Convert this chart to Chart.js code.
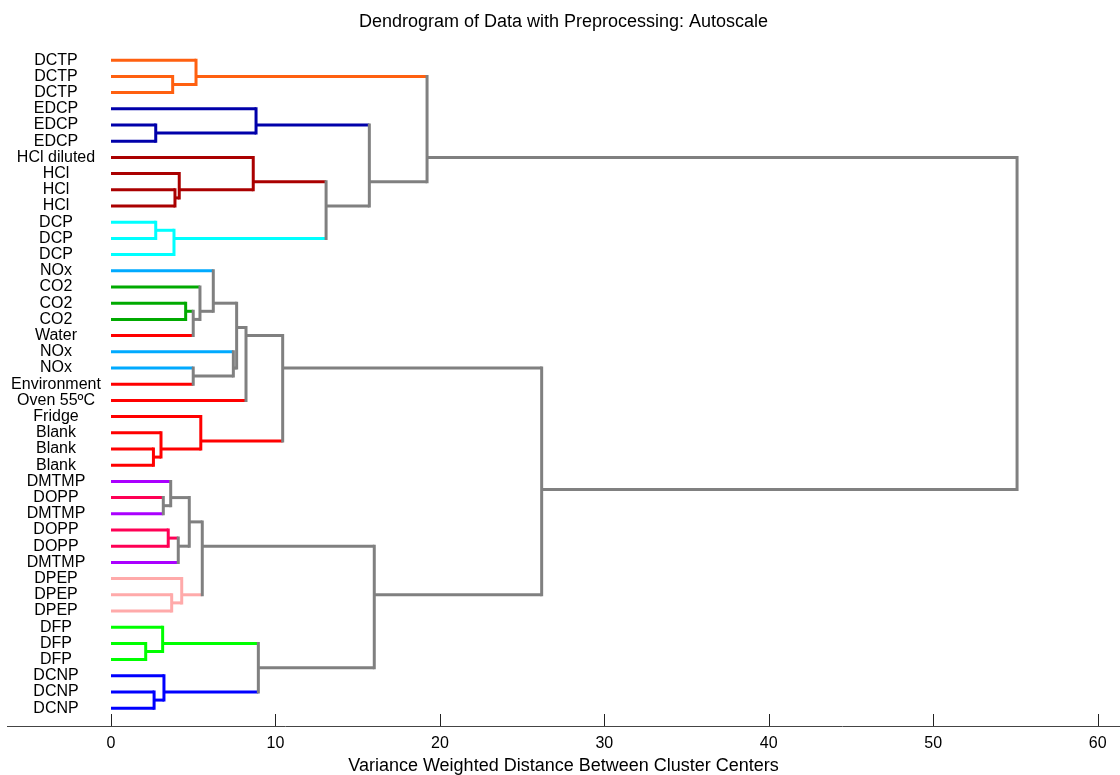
<!DOCTYPE html>
<html>
<head>
<meta charset="utf-8">
<script src="https://cdn.jsdelivr.net/npm/chart.js@4.4.0/dist/chart.umd.min.js"></script>
<style>
  html, body { margin: 0; padding: 0; background: #fff; }
  #wrap { width: 1120px; height: 775px; }
</style>
</head>
<body>
<div id="wrap"><canvas id="dendro" width="1120" height="775"></canvas></div>
<script>
// leaves, top to bottom
const leafLabels = [
  "DCTP", "DCTP", "DCTP", "EDCP", "EDCP", "EDCP",
  "HCl diluted", "HCl", "HCl", "HCl", "DCP", "DCP", "DCP",
  "NOx", "CO2", "CO2", "CO2", "Water", "NOx", "NOx", "Environment", "Oven 55ºC",
  "Fridge", "Blank", "Blank", "Blank",
  "DMTMP", "DOPP", "DMTMP", "DOPP", "DOPP", "DMTMP", "DPEP", "DPEP", "DPEP",
  "DFP", "DFP", "DFP", "DCNP", "DCNP", "DCNP"
];

// linkage rows (matlab style): 1..41 = leaves, 42.. = cluster made by row (n-41)
const linkLeft = [
  2, 1, 5, 4, 9, 8, 7, 11, 49, 48, 45, 43,
  16, 54, 15, 14, 20, 19, 57, 60, 25, 24, 23, 61,
  28, 27, 30, 68, 67, 34, 33, 70, 37, 36, 40, 39, 75, 73, 65, 53
];
const linkRight = [
  3, 42, 6, 44, 10, 46, 47, 12, 13, 50, 51, 52,
  17, 18, 55, 56, 21, 58, 59, 22, 26, 62, 63, 64,
  29, 66, 31, 32, 69, 35, 71, 72, 38, 74, 41, 76, 77, 78, 79, 80
];
const linkHeight = [
  3.75, 5.17, 2.72, 8.82, 3.89, 4.15, 8.65, 2.72, 3.83, 13.08, 15.71, 19.22,
  4.54, 5.0, 5.41, 6.22, 5.0, 7.44, 7.64, 8.21, 2.58, 3.04, 5.46, 10.44,
  3.18, 3.63, 3.48, 4.09, 4.76, 3.69, 4.30, 5.55, 2.11, 3.14, 2.62, 3.22,
  8.96, 16.01, 26.19, 55.1
];
const xTicks = [0, 10, 20, 30, 40, 50, 60];

const labelColors = {
  "DCTP": "#ff6010", "EDCP": "#0000aa", "HCl diluted": "#aa0000", "HCl": "#aa0000",
  "DCP": "#00ffff", "NOx": "#00aaff", "CO2": "#00aa00", "Water": "#ff0000",
  "Environment": "#ff0000", "Oven 55ºC": "#ff0000", "Fridge": "#ff0000", "Blank": "#ff0000",
  "DMTMP": "#aa00ff", "DOPP": "#ff0055", "DPEP": "#ffaaaa", "DFP": "#00ff00", "DCNP": "#0000ff"
};
const GRAY = "#808080";
const FONT = "'Liberation Sans', Arial, Helvetica, sans-serif";

// node info: position = mean of leaf positions, colour only if all leaves share it
const nLeaves = leafLabels.length;
const nodeSum = [], nodeCount = [], nodeH = [], nodeColor = [];
leafLabels.forEach((lab, i) => {
  nodeSum[i + 1] = i + 1;
  nodeCount[i + 1] = 1;
  nodeH[i + 1] = 0;
  nodeColor[i + 1] = labelColors[lab];
});

const datasets = [];
function seg(x1, y1, x2, y2, color, cap) {
  return {
    data: [{ x: x1, y: y1 }, { x: x2, y: y2 }],
    borderColor: color,
    borderWidth: 3,
    borderCapStyle: cap,
    showLine: true,
    pointRadius: 0,
    pointHoverRadius: 0
  };
}

const verticals = [];
linkHeight.forEach((h, k) => {
  const a = linkLeft[k], b = linkRight[k], id = nLeaves + k + 1;
  const ya = nodeSum[a] / nodeCount[a];
  const yb = nodeSum[b] / nodeCount[b];
  nodeSum[id] = nodeSum[a] + nodeSum[b];
  nodeCount[id] = nodeCount[a] + nodeCount[b];
  nodeH[id] = h;
  nodeColor[id] = (nodeColor[a] && nodeColor[a] === nodeColor[b]) ? nodeColor[a] : null;
  datasets.push(seg(nodeH[a], ya, h, ya, nodeColor[a] || GRAY, "butt"));
  datasets.push(seg(nodeH[b], yb, h, yb, nodeColor[b] || GRAY, "butt"));
  verticals.push(seg(h, ya, h, yb, nodeColor[id] || GRAY, "square"));
});
// verticals drawn on top of the horizontal ends
const allSets = verticals.concat(datasets);

const extras = {
  id: "extras",
  afterDraw(chart) {
    const { ctx, chartArea } = chart;
    const xs = chart.scales.x, ys = chart.scales.y;
    ctx.save();
    ctx.strokeStyle = "#222";
    ctx.lineWidth = 1;
    xTicks.forEach(v => {
      const px = Math.round(xs.getPixelForValue(v)) + 0.5;
      ctx.beginPath();
      ctx.moveTo(px, chartArea.bottom);
      ctx.lineTo(px, chartArea.bottom - 12);
      ctx.stroke();
    });
    ctx.fillStyle = "#000";
    ctx.font = "16px " + FONT;
    ctx.textAlign = "center";
    ctx.textBaseline = "middle";
    const edge = xs.getPixelForValue(0);
    leafLabels.forEach((lab, i) => {
      const w = ctx.measureText(lab).width;
      const cx = Math.min(56, edge - w / 2);
      ctx.fillText(lab, cx, ys.getPixelForValue(i + 1));
    });
    ctx.restore();
  }
};

new Chart(document.getElementById("dendro"), {
  type: "scatter",
  data: { datasets: allSets },
  options: {
    responsive: false,
    animation: false,
    events: [],
    layout: { padding: { left: 7, right: 0, top: 0, bottom: 0 } },
    plugins: {
      legend: { display: false },
      tooltip: { enabled: false },
      title: {
        display: true,
        text: "Dendrogram of Data with Preprocessing: Autoscale",
        color: "#000",
        font: { family: FONT, size: 18, weight: "normal" },
        padding: { top: 11.2, bottom: 11.2 }
      }
    },
    scales: {
      x: {
        type: "linear",
        min: -6.325,
        max: 61.36,
        afterBuildTicks: s => { s.ticks = xTicks.map(v => ({ value: v })); },
        afterFit: s => { s.height = 49; },
        grid: { display: false, drawTicks: false },
        border: { display: true, color: "#444", width: 1 },
        ticks: { color: "#000", padding: 8, font: { family: FONT, size: 16 } },
        title: {
          display: true,
          text: "Variance Weighted Distance Between Cluster Centers",
          color: "#000",
          font: { family: FONT, size: 18 },
          padding: { top: 0, bottom: -1.5 }
        }
      },
      y: {
        type: "linear",
        display: false,
        reverse: true,
        min: 0,
        max: 42.1
      }
    }
  },
  plugins: [extras]
});
</script>
</body>
</html>
